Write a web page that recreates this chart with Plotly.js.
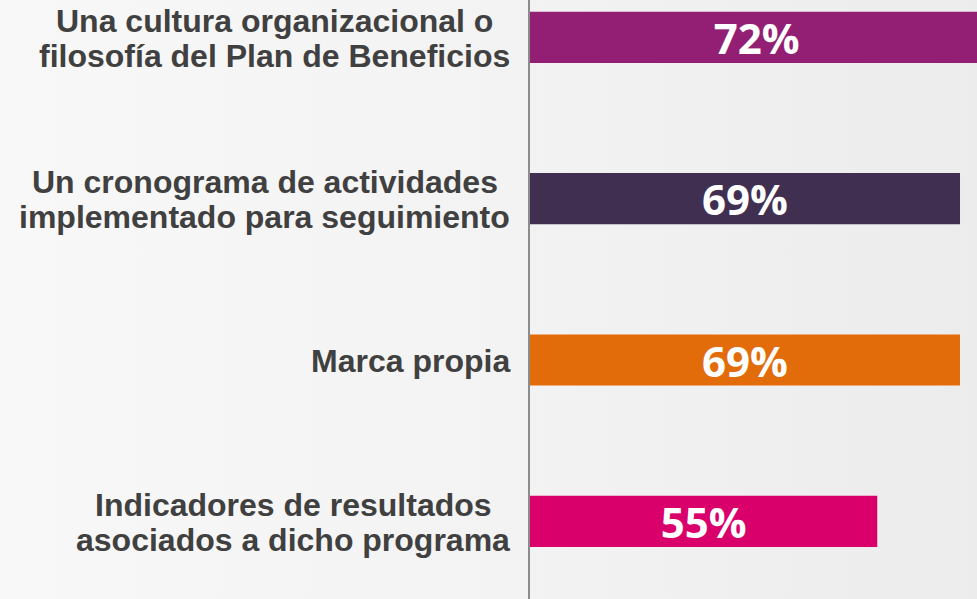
<!DOCTYPE html>
<html>
<head>
<meta charset="utf-8">
<script src="https://cdn.plot.ly/plotly-3.0.1.min.js"></script>
<style>
  html, body { margin: 0; padding: 0; }
  body { width: 977px; height: 599px; overflow: hidden;
         background: linear-gradient(90deg, #f8f8f8 0%, #f3f3f3 50%, #ececec 100%); }
  #chart { width: 977px; height: 599px; }
</style>
</head>
<body>
<div id="chart"></div>
<script>
const categories = [
  'Una cultura organizacional o<br>filosofía del Plan de Beneficios',
  'Un cronograma de actividades<br>implementado para seguimiento',
  'Marca propia',
  'Indicadores de resultados<br>asociados a dicho programa'
];
const values = [72.3, 68.6, 68.6, 55.4];
const valueLabels = ['72%', '69%', '69%', '55%'];
const colors = ['#931F74', '#412F52', '#E36C0A', '#DA006C'];

const LABEL_SIZE = 32;
const LABEL_FAMILY = 'Liberation Sans, Arial, sans-serif';
const canvas = document.createElement('canvas');
const ctx = canvas.getContext('2d');
ctx.font = 'bold ' + LABEL_SIZE + 'px "Liberation Sans", Arial';

const annotations = [];
categories.forEach((c, idx) => {
  const lines = c.split('<br>');
  const maxW = Math.max(...lines.map(l => ctx.measureText(l).width));
  const n = lines.length;
  lines.forEach((line, i) => {
    annotations.push({
      xref: 'paper', x: 0, xanchor: 'center',
      xshift: -(20 + maxW / 2),
      yref: 'y', y: idx, yanchor: 'middle',
      yshift: ((n - 1) / 2 - i) * 35.5 - 1,
      text: line, showarrow: false,
      font: { family: LABEL_FAMILY, size: LABEL_SIZE, color: '#404040', weight: 700 }
    });
  });
});

const trace = {
  type: 'bar', orientation: 'h',
  y: categories.map((c, i) => i), x: values,
  width: 0.317,
  marker: { color: colors, line: { width: 0 } },
  text: valueLabels,
  textposition: 'inside', insidetextanchor: 'middle',
  constraintext: 'none',
  textfont: { family: 'Open Sans, sans-serif', size: 42, color: '#ffffff', weight: 700 },
  hoverinfo: 'none'
};

const layout = {
  width: 977, height: 599,
  margin: { l: 530, r: 0, t: 0, b: 0, pad: 0 },
  paper_bgcolor: 'rgba(0,0,0,0)', plot_bgcolor: 'rgba(0,0,0,0)',
  showlegend: false,
  xaxis: { range: [0, 71.31], showgrid: false, zeroline: false, showticklabels: false, ticks: '', showline: false, fixedrange: true },
  yaxis: { type: 'linear', range: [3.4813, -0.2315], showgrid: false, zeroline: false, showticklabels: false, ticks: '',
           showline: true, linecolor: '#8c8c8c', linewidth: 2, fixedrange: true },
  annotations: annotations
};

Plotly.newPlot('chart', [trace], layout, { displayModeBar: false, staticPlot: true });
</script>
</body>
</html>
